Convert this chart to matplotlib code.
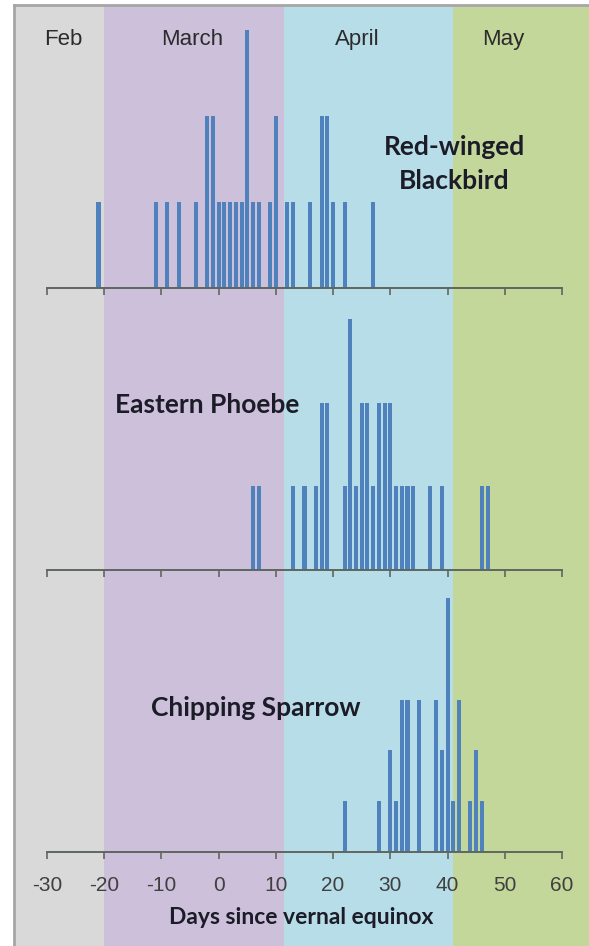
import matplotlib
matplotlib.use("Agg")
import matplotlib.pyplot as plt

plt.rcParams['axes.unicode_minus'] = False

# days since vernal equinox, number of first sightings on that day
rwbb_days = [-21, -11, -9, -7, -4, -2, -1, 0, 1, 2, 3, 4, 5, 6, 7, 9, 10, 12, 13, 16, 18, 19, 20, 22, 27]
rwbb_counts = [1, 1, 1, 1, 1, 2, 2, 1, 1, 1, 1, 1, 3, 1, 1, 1, 2, 1, 1, 1, 2, 2, 1, 1, 1]

phoebe_days = [6, 7, 13, 15, 17, 18, 19, 22, 23, 24, 25, 26, 27, 28, 29, 30, 31, 32, 33, 34, 37, 39, 46, 47]
phoebe_counts = [1, 1, 1, 1, 1, 2, 2, 1, 3, 1, 2, 2, 1, 2, 2, 2, 1, 1, 1, 1, 1, 1, 1, 1]

sparrow_days = [22, 28, 30, 31, 32, 33, 35, 38, 39, 40, 41, 42, 44, 45, 46]
sparrow_counts = [1, 1, 2, 1, 3, 3, 3, 3, 2, 5, 1, 3, 1, 2, 1]

species = ['Red-winged\nBlackbird', 'Eastern Phoebe', 'Chipping Sparrow']

months = ['Feb', 'March', 'April', 'May']
month_edges = [-40, -20, 11.4, 41, 70]
month_label_x = [-27.1, -4.7, 24.2, 49.8]
month_colors = ['#d9d9d9', '#ccc0da', '#b7dee8', '#c4d79b']

W, H = 589, 946
scale = 515 / 90.0  # px per day
xlo = -30 - (47 - 14) / scale
xhi = 60 + (W - 562) / scale

fig = plt.figure(figsize=(W / 100, H / 100), dpi=100)
fig.patch.set_facecolor('white')

# month bands behind everything
bg = fig.add_axes([14 / W, 0, (W - 14) / W, (H - 5) / H])
for i in range(len(months)):
    bg.axvspan(month_edges[i], month_edges[i + 1], color=month_colors[i], lw=0)
    bg.text(month_label_x[i], 0.963, months[i], ha='center', va='center',
            fontsize=16, family='Liberation Sans', color='#2b2b2b')
bg.set_xlim(xlo, xhi)
bg.set_ylim(0, 1)
bg.set_xticks([])
bg.set_yticks([])
for s in ['right', 'bottom']:
    bg.spines[s].set_visible(False)
for s in ['left', 'top']:
    bg.spines[s].set_color('#a6a6a6')
    bg.spines[s].set_linewidth(2)

panels = [(rwbb_days, rwbb_counts), (phoebe_days, phoebe_counts), (sparrow_days, sparrow_counts)]
bottoms = [288, 570, 852]
ytops = [3.28, 3.37, 5.55]
label_pos = [(41.2, 0.44), (-2.0, 0.585), (6.5, 0.51)]

for i, (days, counts) in enumerate(panels):
    ax = fig.add_axes([14 / W, 1 - bottoms[i] / H, (W - 14) / W, 282 / H])
    ax.patch.set_alpha(0)
    ax.bar(days, counts, width=0.7, color='#4f81bd', zorder=2)
    ax.set_xlim(xlo, xhi)
    ax.set_ylim(0, ytops[i])
    ax.set_yticks([])
    ax.set_xticks(range(-30, 61, 10))
    for s in ['left', 'right', 'top']:
        ax.spines[s].set_visible(False)
    ax.spines['bottom'].set_bounds(-30, 60)
    ax.spines['bottom'].set_color('#5f6660')
    ax.spines['bottom'].set_linewidth(1.4)
    ax.tick_params(axis='x', direction='out', length=5, width=1.2, color='#5f6660',
                   labelsize=15, labelcolor='#404040', pad=12)
    for t in ax.get_xticklabels():
        t.set_family('Liberation Sans')
    if i < 2:
        ax.tick_params(labelbottom=False)
    else:
        ax.set_xlabel('Days since vernal equinox', fontsize=16.5, fontweight='bold',
                      family='Lato', color='#1c1c28', labelpad=9)
    lx, ly = label_pos[i]
    ax.text(lx, ly, species[i], transform=ax.get_xaxis_transform(), ha='center', va='center',
            fontsize=19, fontweight='bold', family='Lato', color='#1c1c28', linespacing=1.5)

fig.savefig('out.png', dpi=100)
